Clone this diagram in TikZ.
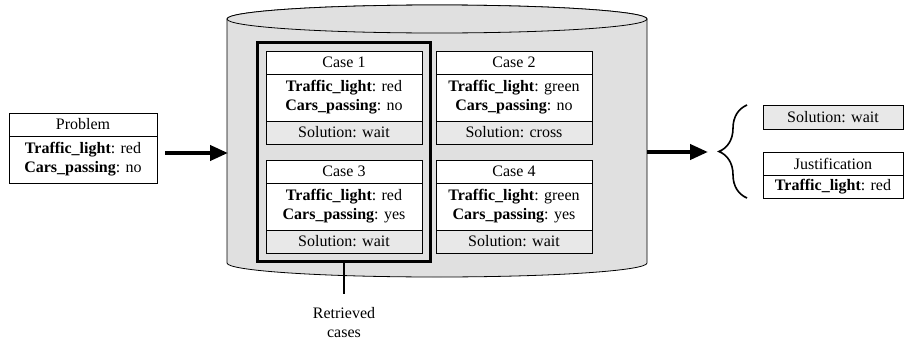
\documentclass[tikz,border=0pt]{standalone}
\usepackage{fontspec}
\setmainfont{Liberation Serif}
\usetikzlibrary{positioning,fit,arrows.meta,decorations.pathreplacing}

\definecolor{dbgray}{gray}{0.88}
\definecolor{solgray}{gray}{0.91}

\begin{document}
\begin{tikzpicture}[
    x=1pt, y=-1pt,
    every node/.style={font=\rmfamily\fontsize{16}{19}\selectfont},
    header/.style={rectangle, draw=black, line width=0.8pt, fill=white, minimum width=156pt, minimum height=23pt, inner sep=0pt, outer sep=0pt},
    attribute/.style={header, minimum height=47pt, align=center},
    solution/.style={header, fill=solgray},
    retrieved/.style={rectangle, draw=black, line width=2.5pt, inner sep=8.5pt},
    bigarrow/.style={line width=4pt, -{Triangle[length=18pt,width=15pt]}}
]
\useasboundingbox (0,0) rectangle (905,343);

% Case base (cylinder)
\filldraw[fill=dbgray, line width=0.8pt] (227,19) -- (227,263)
    arc[start angle=180, end angle=0, x radius=210, y radius=14]
    -- (647,19) arc[start angle=0, end angle=-180, x radius=210, y radius=14] -- cycle;
\draw[fill=dbgray, line width=0.8pt] (437,19) ellipse[x radius=210, y radius=14];

% Problem
\node[header, minimum width=148pt, anchor=north] (problem_head) at (83,113) {Problem};
\node[attribute, minimum width=148pt] (problem_attr) [below=0pt of problem_head] {\textbf{Traffic\_light}: red\\\textbf{Cars\_passing}: no};

% Case 1
\node[header, anchor=north] (case1_head) at (344,51) {Case 1};
\node[attribute] (case1_attr) [below=0pt of case1_head] {\textbf{Traffic\_light}: red\\\textbf{Cars\_passing}: no};
\node[solution] (case1_sol) [below=0pt of case1_attr] {Solution: wait};

% Case 2
\node[header] (case2_head) [right=14pt of case1_head] {Case 2};
\node[attribute] (case2_attr) [below=0pt of case2_head] {\textbf{Traffic\_light}: green\\\textbf{Cars\_passing}: no};
\node[solution] (case2_sol) [below=0pt of case2_attr] {Solution: cross};

% Case 3
\node[header] (case3_head) [below=16pt of case1_sol] {Case 3};
\node[attribute] (case3_attr) [below=0pt of case3_head] {\textbf{Traffic\_light}: red\\\textbf{Cars\_passing}: yes};
\node[solution] (case3_sol) [below=0pt of case3_attr] {Solution: wait};

% Case 4
\node[header] (case4_head) [below=16pt of case2_sol] {Case 4};
\node[attribute] (case4_attr) [below=0pt of case4_head] {\textbf{Traffic\_light}: green\\\textbf{Cars\_passing}: yes};
\node[solution] (case4_sol) [below=0pt of case4_attr] {Solution: wait};

% Retrieved cases
\node[retrieved, fit=(case1_head) (case3_sol)] (retrieved) {};
\node[align=center, inner sep=0pt] (retrieved_label) [below=44pt of retrieved] {Retrieved\\cases};
\draw[line width=2.5pt, shorten >=13pt] (retrieved) -- (retrieved_label);

% Result
\node[solution, minimum width=140pt, minimum height=24pt, anchor=north] (result_sol) at (833,105) {Solution: wait};
\node[header, minimum width=140pt, anchor=north] (just_head) at (833,152) {Justification};
\node[header, minimum width=140pt] (just_attr) [below=0pt of just_head] {\textbf{Traffic\_light}: red};

% Arrows
\coordinate (problem_out) at (165,153);
\coordinate (db_in) at (228,153);
\coordinate (db_out) at (647,152);
\coordinate (brace_tip) at (717,152);
\draw[bigarrow] (problem_out) -- (db_in);
\draw[bigarrow, shorten >=9pt] (db_out) -- (brace_tip);
\draw[line width=1.6pt, decorate, decoration={brace, amplitude=28pt}] (747,198) -- (747,105);

\end{tikzpicture}
\end{document}
